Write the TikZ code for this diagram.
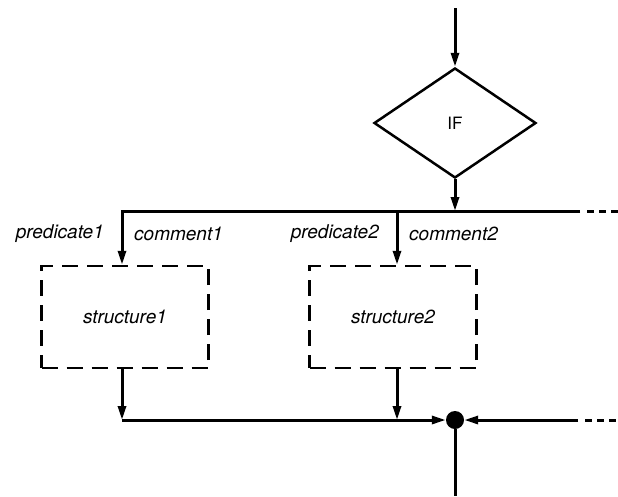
\documentclass[tikz,border=0pt]{standalone}
\usepackage{fontspec}
\setmainfont{TeX Gyre Heros}
\usetikzlibrary{arrows.meta,positioning,shapes.geometric}

\begin{document}
\begin{tikzpicture}[
  x=1pt,y=-1pt,
  decision/.style={draw,diamond,line width=2.5pt,minimum width=162pt,minimum height=110pt,
    inner sep=0pt,font=\fontsize{17}{19}\selectfont},
  structbox/.style={draw,dash pattern=on 16pt off 9pt,line width=2.5pt,
    minimum width=167pt,minimum height=102pt,font=\fontsize{19}{21}\selectfont\itshape},
  lbl/.style={inner sep=0pt,font=\fontsize{19}{21}\selectfont\itshape},
  junction/.style={circle,fill,minimum size=18pt,inner sep=0pt},
  wire/.style={line width=3pt},
  arr/.style={wire,-{Triangle[length=14pt,width=8pt]}},
  more/.style={wire,dash pattern=on 7pt off 5pt}
]
\useasboundingbox (0,0) rectangle (618,496);
% decision
\coordinate (start) at (455,8);
\node[decision] (if) at (455,123) {IF};
\draw[arr] (start) -- (if.north);
% branch rail
\coordinate (split) at (455,211);
\coordinate (rail1) at (122,211);
\coordinate (rail2) at (397,211);
\coordinate (railend) at (580,211);
\coordinate (raildash) at (587,211);
\coordinate (railmore) at (618,211);
\node[structbox] (s1) at (125,317) {structure1};
\node[structbox] (s2) at (393,317) {structure2};
\draw[arr] (if.south) -- (split);
\draw[arr,line join=miter] (railend) -- (rail1) -- (rail1 |- s1.north);
\draw[arr] (rail2) -- (rail2 |- s2.north);
\draw[more] (raildash) -- (railmore);
% labels
\coordinate (lab1) at (122,234);
\node[lbl,left=18pt of lab1] (pred1) {predicate1};
\node[lbl,right=12pt of lab1] (comm1) {comment1};
\coordinate (lab2) at (397,234);
\node[lbl,left=18pt of lab2] (pred2) {predicate2};
\node[lbl,right=12pt of lab2] (comm2) {comment2};
% join
\node[junction] (join) at (455,420) {};
\coordinate (rejoin1) at (122,420);
\coordinate (rejoin2) at (397,420);
\coordinate (feed) at (578,420);
\coordinate (feeddash) at (585,420);
\coordinate (feedmore) at (618,420);
\coordinate (exit) at (455,496);
\draw[arr] (s1.south -| rejoin1) -- (rejoin1);
\draw[arr] (rejoin1) -- (join);
\draw[arr] (s2.south -| rejoin2) -- (rejoin2);
\draw[arr] (feed) -- (join);
\draw[more] (feeddash) -- (feedmore);
\draw[wire] (join) -- (exit);
\end{tikzpicture}
\end{document}
